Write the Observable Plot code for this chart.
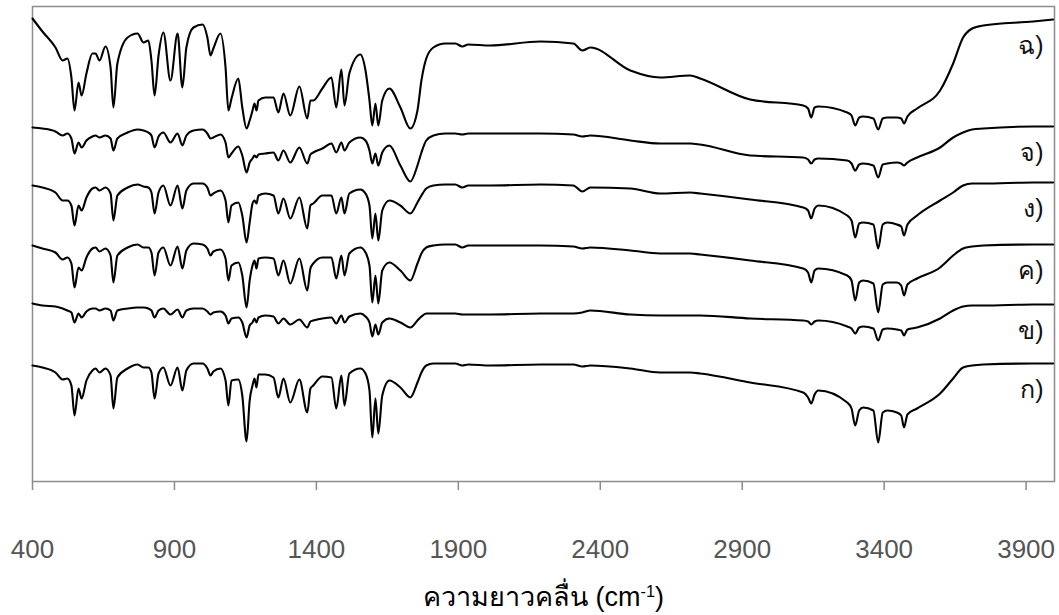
<!DOCTYPE html>
<html><head><meta charset="utf-8">
<script src="https://cdn.jsdelivr.net/npm/d3@7"></script>
<script src="https://cdn.jsdelivr.net/npm/@observablehq/plot@0.6"></script>
<style>
body{margin:0;background:#fff;}
#chart{width:1059px;height:615px;overflow:hidden;}
</style></head><body><div id="chart"></div>
<script>
// Wavenumber grid (cm-1)
const wavenumbers = [400,435,481,506,523,537,548,562,573,590,
611,622,636,657,675,685,699,735,770,791,
808,819,830,844,861,886,911,928,942,967,
999,1016,1027,1037,1062,1080,1090,1101,1125,1139,
1154,1165,1175,1182,1189,1196,1220,1249,1266,1284,
1308,1340,1368,1379,1389,1421,1453,1470,1488,1499,
1516,1555,1573,1587,1597,1608,1618,1632,1657,1696,
1731,1756,1770,1787,1812,1854,1889,1914,1935,2013,
2189,2305,2337,2365,2506,2611,2717,2752,2928,
3115,3132,3143,3155,3168,3270,3285,3298,3312,3326,
3362,3379,3395,3411,3445,3460,3470,3482,3516,
3597,3643,3678,3710,3749,3925,3995];

// Offset transmittance (arbitrary units), one array per spectrum
const specKo = [116,114,109,102,103,96,66,93,83,101,
111,113,109,113,106,73,104,113,117,114,
114,109,83,108,114,96,114,91,111,118,
118,113,106,110,113,101,76,101,102,86,
40,81,96,103,94,107,107,104,84,103,
79,102,69,93,96,105,104,73,106,76,
108,113,108,91,44,83,48,86,101,94,
84,99,109,116,118,118,118,116,117,116,
117,117,115,116,113,109,109,108,99,
89,84,78,87,91,79,73,56,71,74,
71,39,69,71,69,66,54,67,73,
88,103,114,116,117,118,118];

const specKho = [178,176,175,173,171,169,159,168,164,170,
173,173,171,173,171,161,171,173,174,174,
173,171,164,171,173,167,172,164,171,173,
173,170,167,169,170,166,158,163,164,159,
144,156,159,163,159,164,166,165,158,163,
157,162,154,160,161,163,164,158,166,159,
165,168,165,159,145,157,147,159,163,159,
154,161,165,168,168,168,168,167,167,167,
168,168,169,171,167,166,166,166,163,
161,160,157,160,161,155,153,148,154,155,
153,141,152,153,152,151,146,152,154,
163,171,175,176,176,177,177];

const specKhoKhwai = [236,233,229,222,224,218,194,214,211,224,
233,234,230,233,226,199,226,234,237,234,
234,229,206,229,234,216,235,213,231,238,
237,233,226,230,232,223,201,216,219,206,
174,201,216,221,213,223,224,223,206,221,
198,223,191,213,218,224,224,203,226,206,
228,234,229,216,179,206,178,211,219,211,
201,218,228,234,236,237,237,234,236,236,
236,235,233,234,231,228,228,227,221,
213,209,199,211,213,206,201,181,199,201,
198,169,197,199,199,196,186,197,203,
214,226,233,235,236,237,237];

const specNgo = [296,294,289,281,281,276,256,276,271,284,
293,294,291,294,288,261,286,294,297,295,
294,289,268,289,296,276,296,273,291,298,
298,294,286,288,291,281,259,276,279,266,
239,259,278,281,278,286,288,286,268,283,
263,284,253,276,278,286,286,268,284,268,
288,292,288,276,243,268,241,271,281,276,
268,279,286,293,296,297,297,294,296,296,
297,296,290,294,293,288,289,288,282,
274,271,263,273,276,266,261,244,258,259,
257,233,257,259,257,255,246,257,266,
281,289,296,298,298,299,299];

const specCho = [354,353,350,346,348,343,328,339,334,341,
345,346,344,346,343,331,343,349,352,351,
349,346,334,345,349,339,348,336,346,351,
352,348,343,344,347,339,324,328,335,326,
309,319,323,326,324,327,328,329,321,331,
319,334,318,327,329,333,338,329,339,331,
339,344,341,331,318,328,316,329,336,316,
300,316,329,341,346,348,348,347,348,348,
348,347,345,346,341,338,338,337,326,
324,322,318,322,323,321,318,311,317,318,
316,304,317,318,319,318,316,319,324,
334,344,349,352,353,355,355];

const specChing = [463,450,434,421,423,404,371,399,386,408,
428,428,421,435,414,374,418,444,448,439,
441,421,386,426,449,401,448,394,434,454,
457,444,426,433,448,414,371,383,403,374,
353,361,371,378,371,381,384,384,369,388,
366,395,363,381,381,393,404,374,412,376,
408,427,411,381,356,378,356,381,393,374,
353,371,401,423,434,438,438,435,437,436,
440,438,431,434,411,404,406,403,382,
376,373,364,374,375,369,366,356,364,365,
363,352,363,364,364,363,358,365,373,
391,418,444,453,456,460,462];

const seriesNames = ["ก)","ข)","ค)","ง)","จ)","ฉ)"];
const seriesValues = [specKo, specKho, specKhoKhwai, specNgo, specCho, specChing];
const xTicks = [400,900,1400,1900,2400,2900,3400,3900];
const xTitle = "ความยาวคลื่น (cm-1)";

const rows = [];
seriesNames.forEach((name, i) => {
  wavenumbers.forEach((wn, j) => rows.push({series: name, wn, t: seriesValues[i][j]}));
});
const labelRows = seriesNames.map((name, i) => ({series: name, t: seriesValues[i][seriesValues[i].length - 1]}));

const font = "'Liberation Sans', Arial, 'DejaVu Sans', sans-serif";

const chart = Plot.plot({
  width: 1059,
  height: 615,
  marginLeft: 32,
  marginRight: 5,
  marginTop: 6,
  marginBottom: 134,
  style: {fontFamily: font, background: "white"},
  x: {domain: [400, 4000]},
  y: {domain: [0, 475], axis: null},
  marks: [
    Plot.frame({stroke: "#8c8c8c", strokeWidth: 1.5}),
    Plot.line(rows, {x: "wn", y: "t", z: "series", stroke: "black", strokeWidth: 2.1, curve: "monotone-x"}),
    Plot.text(labelRows, {y: "t", text: "series", frameAnchor: "right", dx: -11, dy: 26, textAnchor: "end", fontSize: 25, fill: "#111"}),
    Plot.axisX({ticks: xTicks, tickSize: 9, tickPadding: 49, fontSize: 26, stroke: "#8c8c8c", strokeWidth: 1.5, color: "#555", label: null, tickFormat: d => String(d)}),
    Plot.text([xTitle], {frameAnchor: "bottom", dy: 116, text: d => d, fontSize: 27, fill: "black", lineAnchor: "middle", className: "xtitle"})
  ]
});
document.getElementById("chart").appendChild(chart);

// superscript for the unit
d3.select(chart).selectAll(".xtitle text").each(function() {
  const t = d3.select(this);
  t.text(null);
  t.append("tspan").text("ความยาวคลื่น (cm");
  t.append("tspan").attr("dy", "-0.55em").attr("font-size", "0.6em").text("-1");
  t.append("tspan").attr("dy", "0.33em").text(")");
});
</script>
</body></html>
